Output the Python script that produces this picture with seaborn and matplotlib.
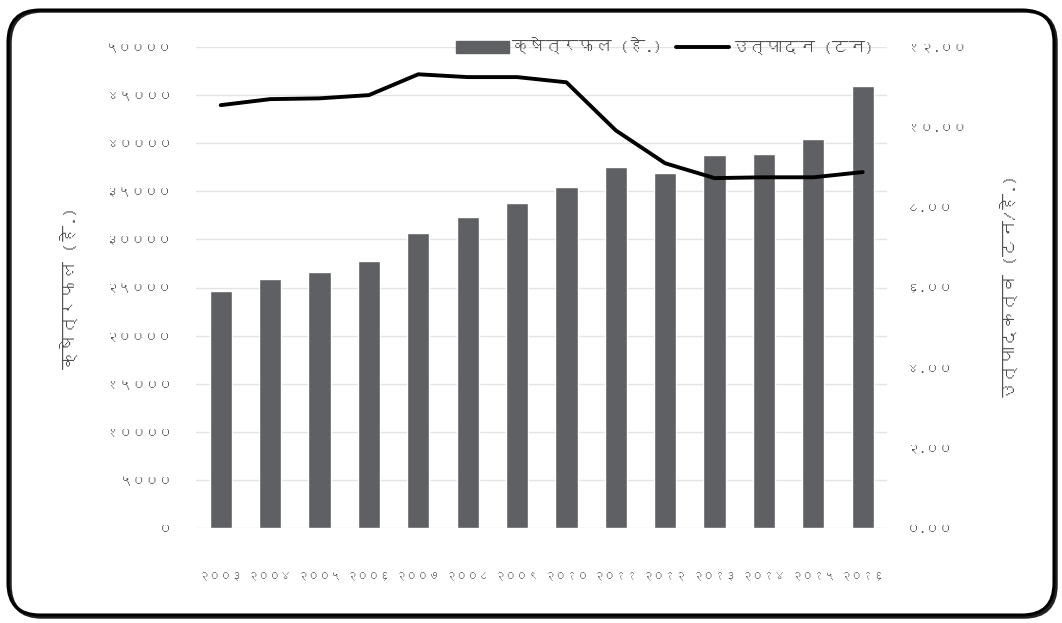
import matplotlib
matplotlib.use("Agg")
import matplotlib.pyplot as plt
from matplotlib import font_manager
from matplotlib.patches import FancyBboxPatch, Patch
from matplotlib.lines import Line2D
from matplotlib.ticker import FuncFormatter, MultipleLocator
import numpy as np
import pandas as pd
import seaborn as sns

# data
years = ["२००३", "२००४", "२००५", "२००६", "२००७", "२००८", "२००९",
         "२०१०", "२०११", "२०१२", "२०१३", "२०१४", "२०१५", "२०१६"]
area = [24600, 25900, 26600, 27800, 30700, 32300, 33800,
        35400, 37500, 36900, 38800, 38900, 40400, 46000]
productivity = [10.55, 10.70, 10.72, 10.80, 11.32, 11.25, 11.25,
                11.12, 9.92, 9.10, 8.73, 8.75, 8.75, 8.88]

bar_label = "क्षेत्रफल (हे.)"
line_label = "उत्पादन (टन)"
left_title = "क्षेत्रफल (हे.)"
right_title = "उत्पादकत्व (टन/हे.)"

sns.set_theme(style="white")

# look for any installed font that covers Devanagari
fams = []
try:
    from fontTools.ttLib import TTFont
    for f in font_manager.fontManager.ttflist:
        try:
            cmap = TTFont(f.fname, fontNumber=0, lazy=True).getBestCmap()
            if cmap and 0x0915 in cmap and f.name not in fams:
                fams.append(f.name)
        except Exception:
            pass
except Exception:
    pass
plt.rcParams["font.family"] = fams + ["Noto Sans", "DejaVu Sans"]

DEV = str.maketrans("0123456789", "०१२३४५६७८९")


def dev_int(v, pos):
    return str(int(round(v))).translate(DEV)


def dev_dec(v, pos):
    return f"{v:.2f}".translate(DEV)


df = pd.DataFrame({"year": years, "area": area, "prod": productivity})

fig = plt.figure(figsize=(10.62, 6.23), dpi=100)
ax = fig.add_axes([0.1846, 0.1525, 0.651, 0.772])

sns.barplot(data=df, x="year", y="area", color="#5f6063", width=0.45,
            saturation=1, ax=ax)
ax.set_ylim(0, 50000)
ax.yaxis.set_major_locator(MultipleLocator(5000))
ax.yaxis.set_major_formatter(FuncFormatter(dev_int))
ax.grid(axis="y", color="#e4e4e4", lw=1)
ax.set_axisbelow(True)
ax.set_xlabel("")
ax.set_ylabel(left_title, fontsize=13, color="#4f4f4f", labelpad=20)
ax.tick_params(axis="y", length=0, labelsize=9.5, colors="#505050", pad=17)
ax.tick_params(axis="x", length=0, labelsize=8, colors="#505050", pad=32)
for s in ax.spines.values():
    s.set_visible(False)

ax2 = ax.twinx()
sns.lineplot(x=np.arange(len(years)), y=productivity, color="black", lw=2.8,
             ax=ax2)
ax2.set_ylim(0, 12)
ax2.yaxis.set_major_locator(MultipleLocator(2))
ax2.yaxis.set_major_formatter(FuncFormatter(dev_dec))
ax2.set_ylabel(right_title, fontsize=13, color="#4f4f4f", labelpad=24)
ax2.tick_params(axis="y", length=0, labelsize=9.5, colors="#505050", pad=14)
for s in ax2.spines.values():
    s.set_visible(False)
ax.set_xlim(-0.5, len(years) - 0.5)

handles = [Patch(color="#5f6063"), Line2D([], [], color="black", lw=2.8)]
fig.legend(handles, [bar_label, line_label], loc="center",
           bbox_to_anchor=(0.626, 0.925), ncol=2, frameon=False,
           fontsize=12, labelcolor="#4f4f4f", handlelength=3.2,
           handletextpad=0.2, columnspacing=0.8)

# rounded frame around the whole picture
shadow = FancyBboxPatch((0.10, 0.06), 10.46, 6.06,
                        boxstyle="round,pad=0,rounding_size=0.32",
                        transform=fig.dpi_scale_trans, fill=False,
                        ec="#222222", lw=2.5, zorder=-1)
frame = FancyBboxPatch((0.08, 0.08), 10.46, 6.05,
                       boxstyle="round,pad=0,rounding_size=0.32",
                       transform=fig.dpi_scale_trans, fill=False,
                       ec="black", lw=2.2)
fig.patches.extend([shadow, frame])

fig.savefig("out.png", dpi=100)
